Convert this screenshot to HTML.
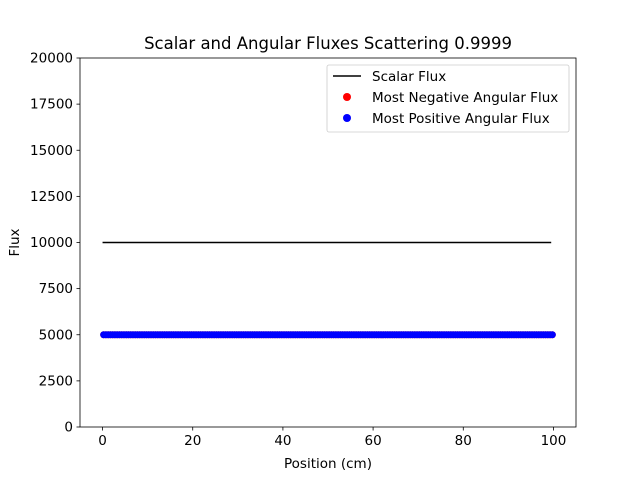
<!DOCTYPE html>
<html><head><meta charset="utf-8"><style>
body{margin:0;background:#fff;font-family:"Liberation Sans","DejaVu Sans",sans-serif}
svg text{font-family:"DejaVu Sans","Liberation Sans",sans-serif}
</style></head><body>
<svg id="chart" width="640" height="480">
<rect x="0" y="0" width="640" height="480" fill="#fff"/>
<g id="plot"></g>
</svg>
<script>
const xTicks=[0,20,40,60,80,100];
const yTicks=[0,2500,5000,7500,10000,12500,15000,17500,20000];
const scalarX=[0,99.5];
const scalarY=[10000,10000];
const nPts=200;
const positions=[];for(let i=0;i<nPts;i++)positions.push(i*0.5+0.25);
const negFlux=positions.map(()=>5000);
const posFlux=positions.map(()=>5000);
const L=80,R=576,T=58,B=427;
const xs=v=>L+(v+5)/110*(R-L);
const ys=v=>B-v/20000*(B-T);
const NS="http://www.w3.org/2000/svg";
const g=document.getElementById('plot');
function mk(t,a,p){const e=document.createElementNS(NS,t);for(const k in a)e.setAttribute(k,a[k]);(p||g).appendChild(e);return e;}
let e;
e=mk('polyline',{points:scalarX.map((x,i)=>xs(x)+','+ys(scalarY[i])).join(' '),fill:'none',stroke:'#000','stroke-width':1.5});


negFlux.forEach((v,i)=>{const c=mk('circle',{cx:xs(positions[i]),cy:ys(v),r:3.5,fill:'red'});

});
posFlux.forEach((v,i)=>{const c=mk('circle',{cx:xs(positions[i]),cy:ys(v),r:3.5,fill:'blue'});

});
e=mk('rect',{x:L,y:T,width:R-L,height:B-T,fill:'none',stroke:'#000','stroke-width':0.8});


xTicks.forEach(t=>{mk('line',{x1:xs(t),x2:xs(t),y1:B,y2:B+3.5,stroke:'#000','stroke-width':0.8});
const tx=mk('text',{x:xs(t),y:B+18,'text-anchor':'middle','font-size':13.5});tx.textContent=t;

});
yTicks.forEach(t=>{mk('line',{x1:L-3.5,x2:L,y1:ys(t),y2:ys(t),stroke:'#000','stroke-width':0.8});
const tx=mk('text',{x:L-7,y:ys(t)+4.5,'text-anchor':'end','font-size':13.5});tx.textContent=t;

});
e=mk('text',{x:(L+R)/2,y:468,'text-anchor':'middle','font-size':13.5});e.textContent='Position (cm)';


e=mk('text',{x:19,y:(T+B)/2,'text-anchor':'middle','font-size':13.5,transform:`rotate(-90 19 ${(T+B)/2})`});e.textContent='Flux';


e=mk('text',{x:(L+R)/2,y:49,'text-anchor':'middle','font-size':16.5});e.textContent='Scalar and Angular Fluxes Scattering 0.9999';


const lg=mk('g',{});


mk('rect',{x:327,y:65,width:242,height:67,rx:2,fill:'#fff',stroke:'#ccc','stroke-width':0.8},lg);
mk('line',{x1:333,x2:361,y1:76,y2:76,stroke:'#000','stroke-width':1.5},lg);
mk('circle',{cx:347,cy:97,r:4,fill:'red'},lg);
mk('circle',{cx:347,cy:118,r:4,fill:'blue'},lg);
[['Scalar Flux',81],['Most Negative Angular Flux',102],['Most Positive Angular Flux',123]].forEach(([s,y])=>{
const t=mk('text',{x:372,y:y,'font-size':13.5},lg);t.textContent=s;

});
</script>
</body></html>
